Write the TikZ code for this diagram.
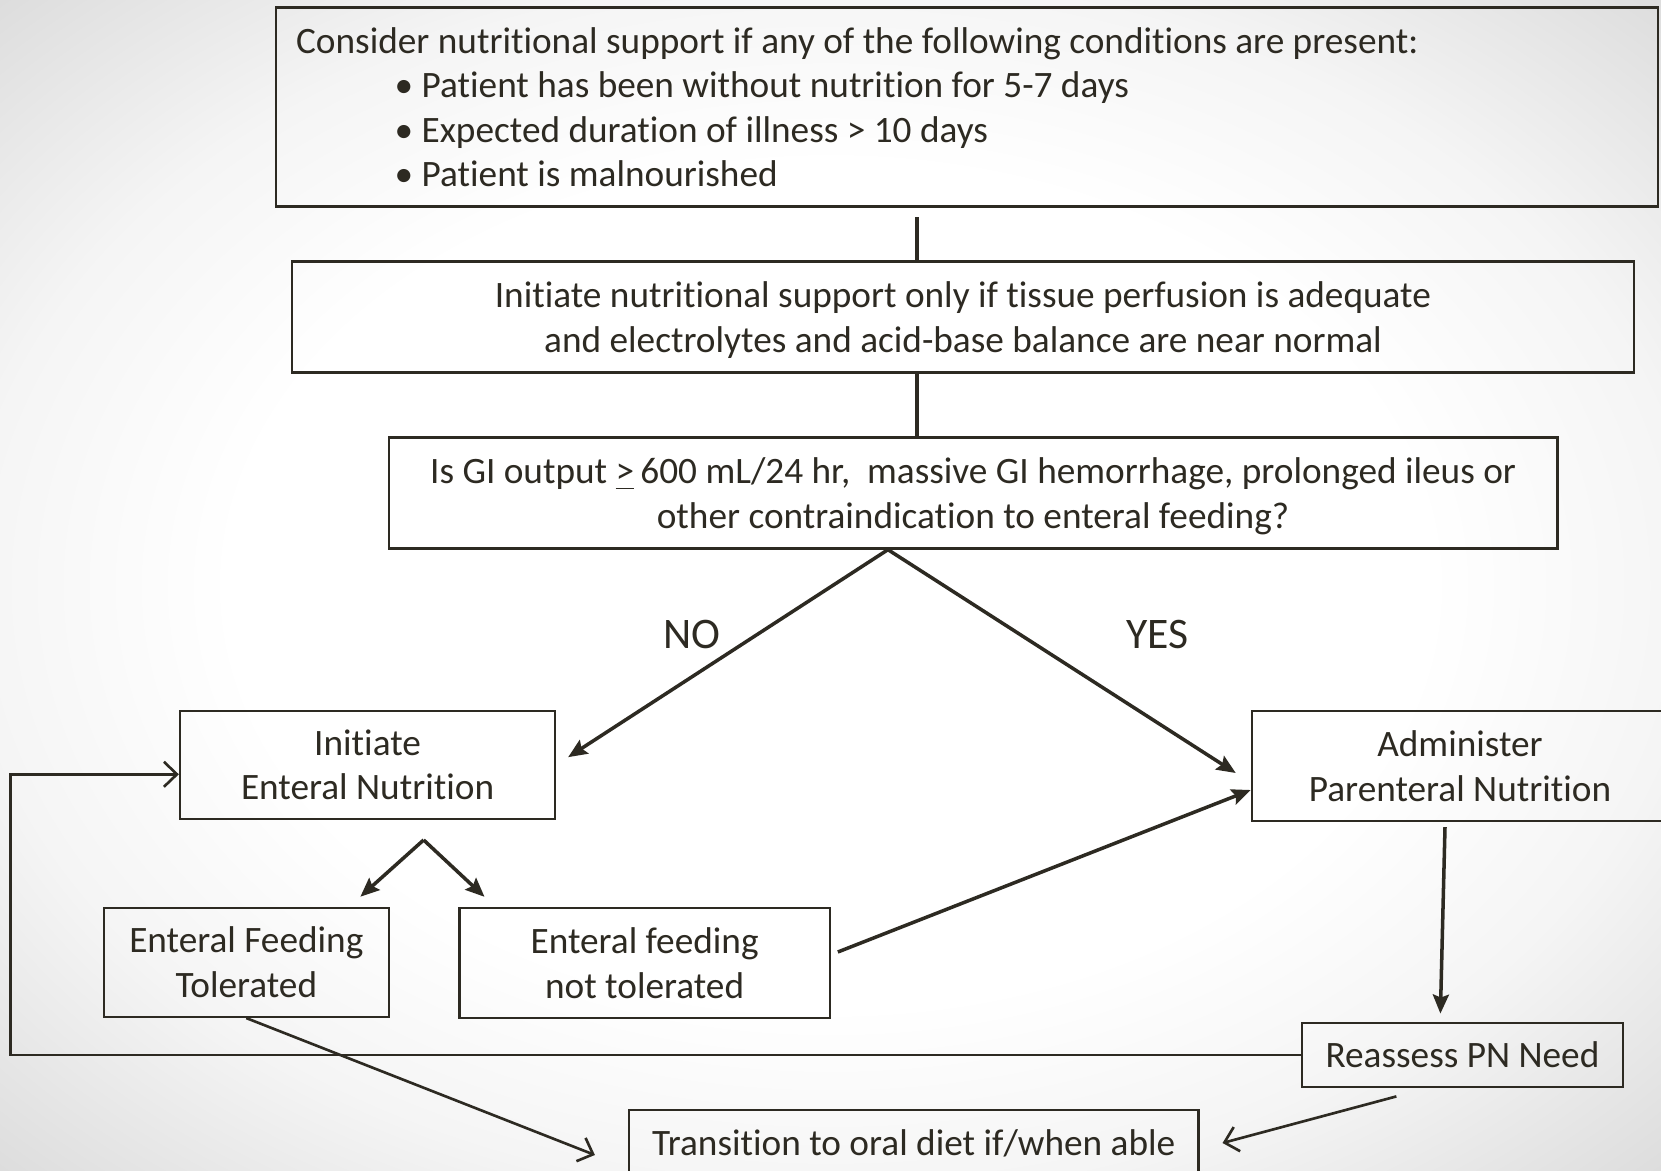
\documentclass[tikz,border=0pt]{standalone}
\usepackage{fontspec}
\setmainfont{Carlito}[Ligatures=NoCommon]
\usetikzlibrary{arrows.meta,positioning,calc}
\definecolor{ink}{RGB}{45,42,34}
\pgfdeclareradialshading{vign}{\pgfpoint{0bp}{0bp}}{color(0bp)=(white);
  color(18bp)=(white);color(26bp)=(black!4);color(36bp)=(black!14);
  color(50bp)=(black!14)}

\begin{document}
\begin{tikzpicture}[
  x=0.01cm,y=-0.01cm,
  font=\fontsize{10.6}{12.66}\selectfont,
  box/.style={draw=ink,line width=0.65pt,align=center,inner sep=0pt,
              text=ink},
  link/.style={ink,line width=1pt},
  arr/.style={-{Stealth[length=1.9mm,width=1.6mm,inset=0.3mm]},ink,
              line width=1pt},
  oarr/.style={-{Straight Barb[length=1.3mm,width=2.5mm]},ink,
               line width=0.75pt},
  lbl/.style={text=ink,font=\fontsize{12.4}{14}\selectfont},
]
  \useasboundingbox (0,0) rectangle (1661,1171);
  \shade[shading=vign] (0,0) rectangle (1661,1171);

  \node[box,align=flush left,text width=13.41cm,inner xsep=0.2cm,
        minimum height=1.99cm] (cond) at (967,107)
    {Consider nutritional support if any of the following conditions are present:\\
     \hspace*{0.985cm}\textbullet\ Patient has been without nutrition for 5-7 days\\
     \hspace*{0.985cm}\textbullet\ Expected duration of illness > 10 days\\
     \hspace*{0.985cm}\textbullet\ Patient is malnourished};

  \node[box,minimum width=13.41cm,minimum height=1.11cm] (perf) at (963,317)
    {Initiate nutritional support only if tissue perfusion is adequate\\
     \smash{and electrolytes and acid-base balance are near normal}};

  \node[box,minimum width=11.68cm,minimum height=1.11cm] (gi) at (973,493)
    {Is GI output \underline{>}\,600 mL/24 hr,\ \ massive GI hemorrhage, prolonged ileus or\\
     \smash{other contraindication to enteral feeding?}};

  \node[box,minimum width=3.75cm,minimum height=1.08cm] (en) at (367.6,764.8)
    {Initiate\\Enteral Nutrition};
  \node[box,minimum width=4.16cm,minimum height=1.10cm] (pn) at (1460,766)
    {Administer\\Parenteral Nutrition};
  \node[box,minimum width=2.85cm,minimum height=1.09cm] (tol) at (246.3,962.4)
    {Enteral Feeding\\Tolerated};
  \node[box,minimum width=3.70cm,minimum height=1.10cm] (ntol) at (644.6,963)
    {Enteral feeding\\not tolerated};
  \node[box,minimum width=3.21cm,minimum height=0.635cm] (reas) at (1462.4,1055)
    {Reassess PN Need};
  \node[box,minimum width=5.69cm,minimum height=0.66cm] (oral) at (913.7,1143)
    {Transition to oral diet if/when able};

  \node[lbl] (no) at (691.7,634.5) {NO};
  \node[lbl] (yes) at (1157.8,634.5) {YES};

  % top spine
  \coordinate (s1) at ([xshift=-0.5cm,yshift=-0.095cm]cond.south);
  \draw[link] (s1) -- (s1 |- perf.north);
  \draw[link] (perf.south -| s1) -- (gi.north -| s1);

  % decision
  \coordinate (fork) at ([xshift=-0.85cm]gi.south);
  \draw[arr,shorten >=0.14cm] (fork) -- (en.east);
  \draw[arr] (fork) -- ([xshift=-0.15cm,yshift=-0.07cm]pn.west);

  \coordinate (sub) at ([xshift=0.56cm,yshift=-0.2cm]en.south);
  \draw[arr] (sub) -- ([xshift=1.14cm,yshift=0.1cm]tol.north);
  \draw[arr] (sub) -- ([xshift=-1.6cm,yshift=0.1cm]ntol.north);

  \draw[arr] ([xshift=0.07cm,yshift=0.11cm]ntol.east)
    -- ([yshift=-0.24cm]pn.west);
  \draw[arr] ([xshift=-0.15cm,yshift=-0.05cm]pn.south)
    -- ([xshift=-0.22cm,yshift=0.085cm]reas.north);

  % loop back and exits
  \coordinate (loopx) at (10.6,0);
  \draw[oarr] (reas.west) -- (reas.west -| loopx)
    |- ([yshift=-0.095cm]en.west);
  \draw[oarr] (tol.south) -- ([xshift=-0.33cm,yshift=-0.12cm]oral.west);
  \draw[oarr] ([xshift=-0.66cm,yshift=-0.085cm]reas.south)
    -- ([xshift=0.23cm]oral.east);
\end{tikzpicture}
\end{document}
